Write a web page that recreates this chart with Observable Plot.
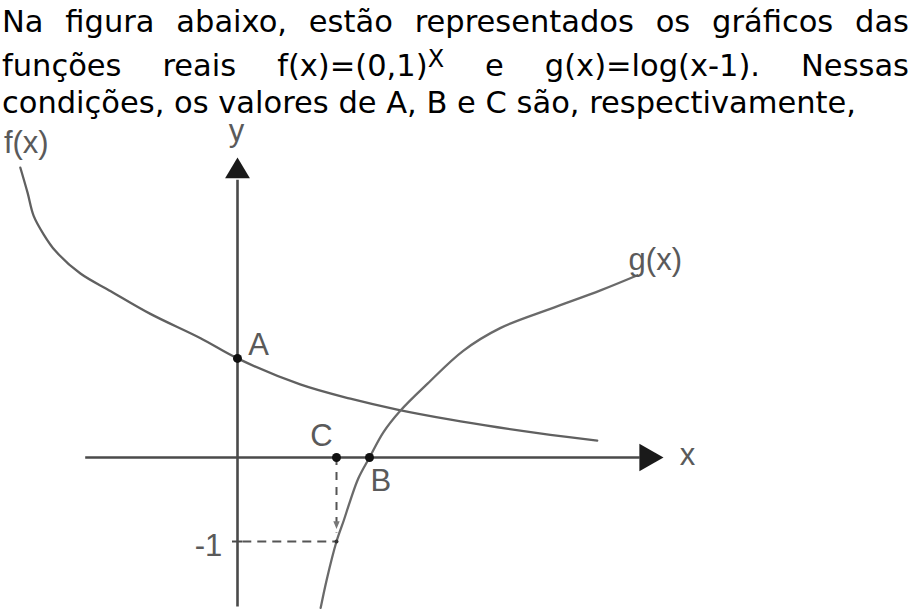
<!DOCTYPE html>
<html>
<head>
<meta charset="utf-8">
<script src="https://cdn.jsdelivr.net/npm/d3@7"></script>
<script src="https://cdn.jsdelivr.net/npm/@observablehq/plot@0.6"></script>
<style>
  html, body { margin: 0; padding: 0; background: #fff; }
  #wrap { position: relative; width: 911px; height: 610px; overflow: hidden; }
  #text { position: absolute; left: 0; top: 0; width: 911px; height: 116px; z-index: 2; font-family: "DejaVu Sans", sans-serif; font-size: 30.5px; color: #000; }
  .line { position: absolute; left: 2px; width: 907px; line-height: 36px; white-space: nowrap; }
  .j { text-align: justify; text-align-last: justify; white-space: normal; }
  sup { font-size: 24px; line-height: 0; vertical-align: 0; position: relative; top: -8.5px; }
  #chart { position: absolute; left: 0; top: 116px; }
  #chart svg { display: block; }
</style>
</head>
<body>
<div id="wrap">
  <div id="text">
    <div class="line j" style="top:3.5px">Na figura abaixo, estão representados os gráficos das</div>
    <div class="line j" style="top:47.5px">funções reais f(x)=(0,1)<sup>X</sup> e g(x)=log(x-1). Nessas</div>
    <div class="line" style="top:84.5px">condições, os valores de A, B e C são, respectivamente,</div>
  </div>
  <div id="chart"></div>
</div>
<script>
// Curve f(x) = (0,1)^x (schematic)
const fX = [-3.29, -3.18, -3.09, -2.94, -2.76, -2.38, -1.92, -1.32, -0.56, 0, 0.95, 1.71, 2.42, 3.23, 3.94, 4.74, 5.45];
const fY = [3.45, 3.15, 2.88, 2.66, 2.46, 2.19, 1.98, 1.71, 1.42, 1.18, 0.87, 0.70, 0.57, 0.45, 0.36, 0.27, 0.20];
// Curve g(x) = log(x-1) (schematic)
const gX = [1.26, 1.35, 1.5, 1.61, 1.71, 1.83, 2, 2.21, 2.47, 2.88, 3.42, 3.98, 4.74, 5.5, 6.06];
const gY = [-1.79, -1.46, -1, -0.75, -0.51, -0.25, 0, 0.30, 0.56, 0.88, 1.27, 1.54, 1.77, 1.99, 2.17];
// Marked points
const pointNames = ["A", "C", "B"];
const pointX = [0, 1.5, 2];
const pointY = [1.18, 0, 0];
const pointLabelX = [0.32, 1.27, 2.17];
const pointLabelY = [1.34, 0.25, -0.28];
// Tick on y axis
const tickValues = [-1];
const tickLabels = ["-1"];
const tickLabelX = [-0.44];
const tickLabelY = [-1.06];
// Axis and curve labels
const axisLabels = ["y", "x", "f(x)", "g(x)"];
const axisLabelX = [-0.015, 6.82, -3.2, 6.33];
const axisLabelY = [3.89, 0.025, 3.74, 2.35];
// Axis extents
const xAxisRange = [-2.3, 6.1];
const yAxisRange = [-1.78, 3.3];
const xArrowAt = 6.216;
const yArrowAt = 3.411;
const dashArrowY = -0.79;

// Layout (pixels)
const W = 911, H = 494;
const originX = 237, originY = 341, pxPerX = 66, pxPerY = 84;

const upTri = {draw(ctx, size) { const k = Math.sqrt(size / Math.PI); ctx.moveTo(0, -1.5 * k); ctx.lineTo(1.38 * k, 0.8 * k); ctx.lineTo(-1.38 * k, 0.8 * k); ctx.closePath(); }};
const rightTri = {draw(ctx, size) { const k = Math.sqrt(size / Math.PI); ctx.moveTo(1.5 * k, 0); ctx.lineTo(-0.8 * k, 1.3 * k); ctx.lineTo(-0.8 * k, -1.3 * k); ctx.closePath(); }};
const downTri = {draw(ctx, size) { const k = Math.sqrt(size / Math.PI); ctx.moveTo(0, 1.6 * k); ctx.lineTo(1.0 * k, -0.8 * k); ctx.lineTo(-1.0 * k, -0.8 * k); ctx.closePath(); }};

const fData = fX.map((x, i) => ({x, y: fY[i]}));
const gData = gX.map((x, i) => ({x, y: gY[i]}));
const pts = pointNames.map((n, i) => ({n, x: pointX[i], y: pointY[i], lx: pointLabelX[i], ly: pointLabelY[i]}));
const ticks = tickValues.map((v, i) => ({v, label: tickLabels[i], lx: tickLabelX[i], ly: tickLabelY[i]}));
const alabels = axisLabels.map((t, i) => ({t, x: axisLabelX[i], y: axisLabelY[i]}));

const labelFont = "'Liberation Sans', Arial, sans-serif";
const gray = "#5a5a5a";

const chart = Plot.plot({
  width: W,
  height: H,
  margin: 0,
  x: {domain: [-originX / pxPerX, (W - originX) / pxPerX], axis: null},
  y: {domain: [-(H - originY) / pxPerY, originY / pxPerY], axis: null},
  style: {background: "transparent", overflow: "visible"},
  marks: [
    // axes
    Plot.ruleY([0], {x1: xAxisRange[0], x2: xAxisRange[1], stroke: "#4a4a4a", strokeWidth: 2.6}),
    Plot.ruleX([0], {y1: yAxisRange[0], y2: yAxisRange[1], stroke: "#4a4a4a", strokeWidth: 2.6}),
    Plot.dot([0], {x: xArrowAt, y: 0, symbol: rightTri, r: 10.5, fill: "#1a1a1a", stroke: "none"}),
    Plot.dot([0], {x: 0, y: yArrowAt, symbol: upTri, r: 9, fill: "#1a1a1a", stroke: "none"}),
    // tick on y axis
    Plot.ruleY(ticks, {y: "v", x1: -0.076, x2: 0.076, stroke: "#4a4a4a", strokeWidth: 2}),
    // dashed guides
    Plot.ruleY(ticks, {y: "v", x1: 0.08, x2: pointX[1], stroke: "#555", strokeWidth: 2, strokeDasharray: "9,6"}),
    Plot.ruleX([pointX[1]], {y1: 0, y2: tickValues[0] + 0.1, stroke: "#555", strokeWidth: 2, strokeDasharray: "8,7"}),
    Plot.dot([0], {x: pointX[1], y: dashArrowY, symbol: downTri, r: 3.2, fill: "#777", stroke: "none"}),
    // curves
    Plot.line(fData, {x: "x", y: "y", curve: "catmull-rom", stroke: "#606060", strokeWidth: 2.3}),
    Plot.line(gData, {x: "x", y: "y", curve: "catmull-rom", stroke: "#6a6a6a", strokeWidth: 2.3}),
    // points
    Plot.dot(pts, {x: "x", y: "y", r: 4.5, fill: "#111", stroke: "none"}),
    Plot.dot([0], {x: gX[2], y: gY[2], r: 2, fill: "#333", stroke: "none"}),
    // labels
    Plot.text(pts, {x: "lx", y: "ly", text: "n", fontSize: 31, fontFamily: labelFont, fill: gray, textAnchor: "middle"}),
    Plot.text(ticks, {x: "lx", y: "ly", text: "label", fontSize: 31, fontFamily: labelFont, fill: gray, textAnchor: "middle"}),
    Plot.text(alabels, {x: "x", y: "y", text: "t", fontSize: 31, fontFamily: labelFont, fill: gray, textAnchor: "middle"})
  ]
});
document.getElementById("chart").appendChild(chart);
</script>
</body>
</html>
